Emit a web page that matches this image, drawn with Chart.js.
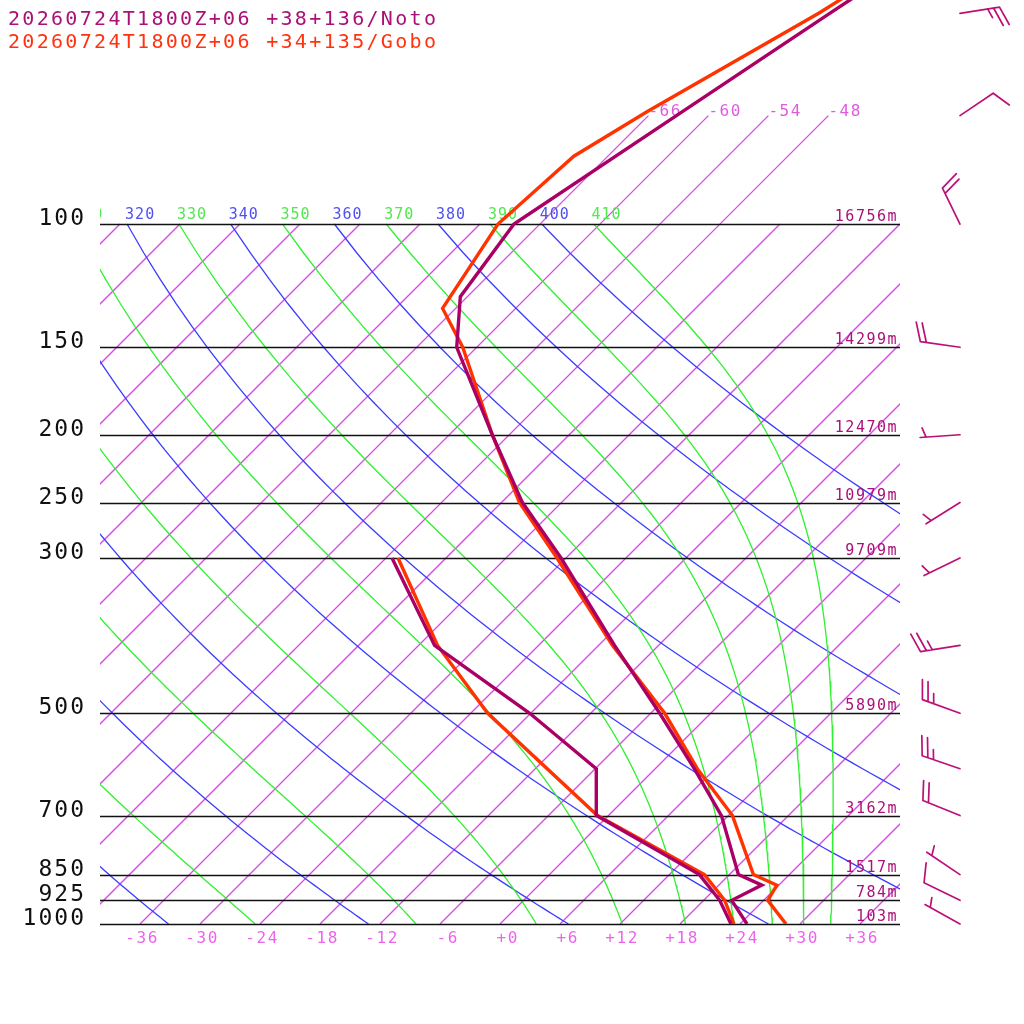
<!DOCTYPE html>
<html lang="en">
<head>
<meta charset="UTF-8">
<title>Skew-T Noto / Gobo</title>
<script src="https://cdn.jsdelivr.net/npm/chart.js"></script>
<style>
  html, body { margin: 0; padding: 0; background: #fff; }
  #wrap { width: 1024px; height: 1024px; }
</style>
</head>
<body>
<div id="wrap"><canvas id="skewt" width="1024" height="1024"></canvas></div>
<script>
// --- soundings (hPa / degC), null = no dewpoint at that level
const notoP  = [1000, 925, 880, 850, 700, 600, 500, 400, 300, 250, 200, 150, 127, 100, 70, 50, 30];
const notoT  = [24.7, 20.8, 22.3, 18.9, 11.3, 3.9, -5.1, -16.4, -30.5, -39.9, -49.7, -62.0, -66.7, -68.6, -63.2, -58.1, -50.0];
const notoTd = [23.1, 19.6, null, 15.0, -1.2, -5.9, -18.1, -34.4, -47.4, null, null, null, null, null, null, null, null];

const gobP  = [1000, 925, 880, 850, 700, 600, 500, 400, 300, 250, 200, 150, 132, 100, 80, 69, 50, 30];
const gobT  = [28.6, 24.4, 23.8, 20.4, 12.4, 4.2, -4.6, -16.6, -30.9, -40.2, -49.7, -61.4, -67.3, -70.2, -69.4, -66.5, -59.2, -50.0];
const gobTd = [23.4, 20.1, null, 15.5, -1.1, null, -22.3, -34.1, -46.8, null, null, null, null, null, null, null, null];

// --- winds for Noto (deg, kt)
const windP   = [1000, 925, 850, 700, 600, 500, 400, 300, 250, 200, 150, 100, 70, 50];
const windDir = [299, 296, 304, 292, 289, 290, 261, 244, 238, 266, 278, 334, 56, 81];
const windSpd = [5, 10, 5, 20, 25, 25, 25, 5, 5, 5, 20, 20, 10, 25];

// --- axes / background lines
const pressureLevels = [100, 150, 200, 250, 300, 500, 700, 850, 925, 1000];
const heightLabels   = ['16756m', '14299m', '12470m', '10979m', '9709m', '5890m', '3162m', '1517m', '784m', '103m'];
const tempTicks      = [-36, -30, -24, -18, -12, -6, 0, 6, 12, 18, 24, 30, 36];
const isotherms      = [];
for (let t = -120; t <= 36; t += 6) isotherms.push(t);
const isothermLabels = [-66, -60, -54, -48];   // these run up to 70 hPa, the rest stop at 100
const dryThetas      = [240, 260, 280, 300, 320, 340, 360, 380, 400];
const moistThetas    = [250, 270, 290, 310, 330, 350, 370, 390, 410];

const SKEW = 30.4;                       // x units per ln(1000/p)
const P_TOP = 1000 * Math.exp(-924 / 304);
const KAPPA = 287.04 / 1005.7;

const NOTO = '#aa0066', GOBO = '#ff3300';
const C_ISO = '#d84ae6', C_DRY = '#3c3cff', C_MOIST = '#30f030';

function skewX(t, p) { return t + SKEW * Math.log(1000 / p); }

function profile(pArr, tArr) {
  const pts = [];
  pArr.forEach((p, i) => { if (tArr[i] !== null) pts.push({ x: skewX(tArr[i], p), y: p }); });
  return pts;
}

function dryAdiabat(theta) {
  const pts = [];
  for (let p = 100; p <= 1000; p += 10) {
    pts.push({ x: skewX(theta * Math.pow(p / 1000, KAPPA) - 273.15, p), y: p });
  }
  return pts;
}

// pseudo-adiabat integrated from 100 hPa downward
function moistAdiabat(theta) {
  const Rd = 287.04, Cp = 1005.7, Lv = 2.501e6, eps = 0.622;
  const f = (pp, TT) => {
    const tc = TT - 273.15;
    const es = 6.112 * Math.exp(17.67 * tc / (tc + 243.5));
    const rs = eps * es / (pp - es);
    return (Rd * TT + Lv * rs) / (pp * (Cp + Lv * Lv * rs * eps / (Rd * TT * TT)));
  };
  let p = 100, T = theta * Math.pow(0.1, KAPPA);
  const pts = [{ x: skewX(T - 273.15, p), y: p }];
  const dp = 2;
  while (p < 1000) {
    const k1 = f(p, T);
    const k2 = f(p + dp, T + dp * k1);
    T += dp * (k1 + k2) / 2;
    p += dp;
    if (p % 10 === 0) pts.push({ x: skewX(T - 273.15, p), y: p });
  }
  return pts;
}

function lineSet(data, color, width) {
  return { data, borderColor: color, borderWidth: width, showLine: true, pointRadius: 0, tension: 0, fill: false };
}

const datasets = [
  lineSet(profile(notoP, notoT), NOTO, 3.4),
  lineSet(profile(notoP, notoTd), NOTO, 3.4),
  lineSet(profile(gobP, gobT), GOBO, 3.4),
  lineSet(profile(gobP, gobTd), GOBO, 3.4)
];
const SOUNDINGS = datasets.length;
moistThetas.forEach(th => datasets.push(lineSet(moistAdiabat(th), C_MOIST, 1.3)));
dryThetas.forEach(th => datasets.push(lineSet(dryAdiabat(th), C_DRY, 1.3)));
isotherms.forEach(t => {
  const top = isothermLabels.includes(t) ? 70 : 100;
  datasets.push(lineSet([{ x: skewX(t, 1000), y: 1000 }, { x: skewX(t, top), y: top }], C_ISO, 1.3));
});

const MONO = '"DejaVu Sans Mono", monospace';

function txt(ctx, s, x, y, font, color, align, spacing) {
  ctx.font = font;
  ctx.fillStyle = color;
  ctx.textAlign = align;
  ctx.textBaseline = 'alphabetic';
  ctx.letterSpacing = spacing || '0px';
  ctx.fillText(s, x, y);
}

const decor = {
  id: 'decor',
  beforeDatasetDraw(chart, args) {
    if (args.index !== SOUNDINGS - 1) return;
    const { ctx, chartArea: a, scales: { x, y } } = chart;
    ctx.save();
    ctx.strokeStyle = '#111';
    ctx.lineWidth = 1.5;
    pressureLevels.forEach(p => {
      const py = Math.round(y.getPixelForValue(p)) + 0.5;
      ctx.beginPath();
      ctx.moveTo(a.left, py);
      ctx.lineTo(a.right, py);
      ctx.stroke();
    });
    isothermLabels.forEach(t => {
      txt(ctx, String(t), x.getPixelForValue(skewX(t, 70)), y.getPixelForValue(70), '16px ' + MONO, '#e05ae0', 'left', '1.5px');
    });
    // adiabat labels along 100 hPa, clipped to plot area
    ctx.beginPath();
    ctx.rect(a.left, a.top, a.right - a.left, a.bottom - a.top);
    ctx.clip();
    const y100 = y.getPixelForValue(100) - 5;
    dryThetas.forEach(th => {
      const px = x.getPixelForValue(skewX(th * Math.pow(0.1, KAPPA) - 273.15, 100));
      txt(ctx, String(th), px - 2, y100, '15px ' + MONO, '#5050f0', 'left', '1px');
    });
    moistThetas.forEach(th => {
      const px = x.getPixelForValue(skewX(th * Math.pow(0.1, KAPPA) - 273.15, 100));
      txt(ctx, String(th), px - 2, y100, '15px ' + MONO, '#50e850', 'left', '1px');
    });
    ctx.restore();
  },
  afterDraw(chart) {
    const { ctx, chartArea: a, scales: { x, y } } = chart;
    ctx.save();
    txt(ctx, '20260724T1800Z+06 +38+136/Noto', 8, 25, '20px ' + MONO, '#aa1177', 'left', '2.3px');
    txt(ctx, '20260724T1800Z+06 +34+135/Gobo', 8, 48, '20px ' + MONO, '#ff3311', 'left', '2.3px');
    pressureLevels.forEach((p, i) => {
      const py = y.getPixelForValue(p);
      txt(ctx, String(p), 86, py + 1, '23px ' + MONO, '#111', 'right', '2px');
      txt(ctx, heightLabels[i], a.right - 2, py - 3, '15px ' + MONO, '#aa1177', 'right', '1.5px');
    });
    tempTicks.forEach(t => {
      const s = (t >= 0 ? '+' : '') + t;
      txt(ctx, s, x.getPixelForValue(t) + 19, a.bottom + 19, '16px ' + MONO, '#ec64ec', 'right', '1.6px');
    });
    // wind barbs
    ctx.strokeStyle = '#bb1177';
    ctx.lineWidth = 1.7;
    ctx.lineCap = 'round';
    windP.forEach((p, i) => {
      const ax = 960, ay = y.getPixelForValue(p);
      const d = windDir[i] * Math.PI / 180;
      const vx = Math.sin(d), vy = -Math.cos(d);
      const tx = ax + 40 * vx, ty = ay + 40 * vy;
      ctx.beginPath();
      ctx.moveTo(ax, ay);
      ctx.lineTo(tx, ty);
      const ang = Math.atan2(vy, vx) + 70 * Math.PI / 180;
      const bx = Math.cos(ang), by = Math.sin(ang);
      const full = Math.floor(windSpd[i] / 10);
      const half = windSpd[i] % 10 >= 5;
      let k = 0;
      for (; k < full; k++) {
        const sx = tx - 6 * k * vx, sy = ty - 6 * k * vy;
        ctx.moveTo(sx, sy);
        ctx.lineTo(sx + 20 * bx, sy + 20 * by);
      }
      if (half) {
        if (k === 0) k = 1;
        const sx = tx - 6 * k * vx, sy = ty - 6 * k * vy;
        ctx.moveTo(sx, sy);
        ctx.lineTo(sx + 10 * bx, sy + 10 * by);
      }
      ctx.stroke();
    });
    ctx.restore();
  }
};

new Chart(document.getElementById('skewt'), {
  type: 'scatter',
  data: { datasets },
  options: {
    responsive: false,
    animation: false,
    events: [],
    layout: { padding: { left: 100, right: 124, top: 0, bottom: 100 } },
    plugins: { legend: { display: false }, tooltip: { enabled: false }, title: { display: false } },
    scales: {
      x: { type: 'linear', min: -40, max: 40, bounds: 'data', display: false },
      y: { type: 'logarithmic', min: P_TOP, max: 1000, bounds: 'data', reverse: true, display: false }
    }
  },
  plugins: [decor]
});
</script>
</body>
</html>
